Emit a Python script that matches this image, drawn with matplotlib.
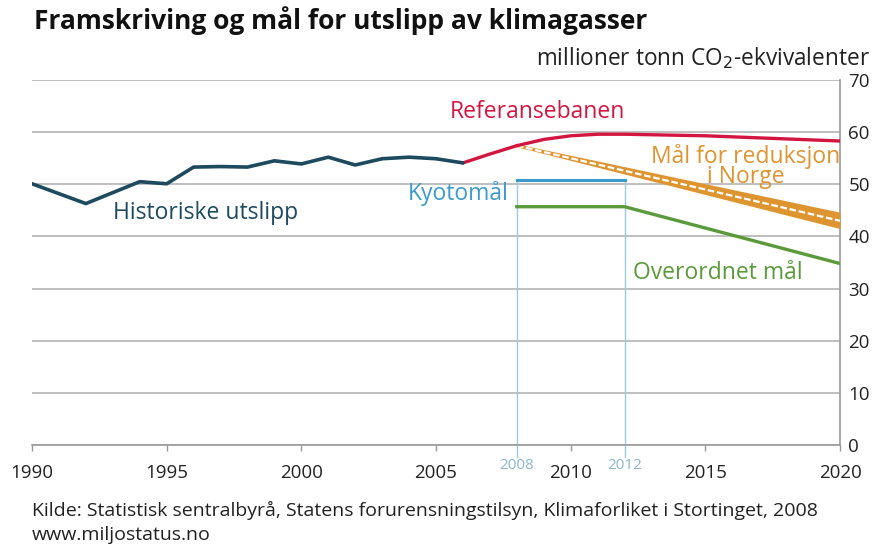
import matplotlib.pyplot as plt
import numpy as np

plt.rcParams['font.family'] = ['Open Sans', 'DejaVu Sans']

# historiske utslipp (millioner tonn CO2-ekv.)
hist_years = [1990, 1991, 1992, 1993, 1994, 1995, 1996, 1997, 1998, 1999,
              2000, 2001, 2002, 2003, 2004, 2005, 2006]
hist_vals = [50.1, 48.2, 46.3, 48.4, 50.5, 50.1, 53.3, 53.4, 53.3, 54.5,
             53.9, 55.2, 53.7, 54.9, 55.2, 54.9, 54.1]

# referansebanen
ref_years = [2006, 2007, 2008, 2009, 2010, 2011, 2012, 2015, 2020]
ref_vals = [54.1, 55.8, 57.4, 58.6, 59.3, 59.6, 59.6, 59.3, 58.3]

# mål for reduksjon i Norge (band)
norge_years = [2008, 2020]
norge_upper = [57.4, 44.3]
norge_lower = [57.4, 41.7]

# Kyotomål
kyoto_years = [2008, 2012]
kyoto_vals = [50.9, 50.9]

# overordnet mål
over_years = [2008, 2012, 2020]
over_vals = [45.7, 45.7, 34.8]

y_ticks = [0, 10, 20, 30, 40, 50, 60, 70]
x_ticks = [1990, 1995, 2000, 2005, 2010, 2015, 2020]

c_hist = '#1d4a5e'
c_ref = '#d2163f'
c_norge = '#de9530'
c_kyoto = '#3b9bcb'
c_kyoto_light = '#9cc8e0'
c_over = '#5b9a3a'
c_grid = '#b4b4b4'

fig = plt.figure(figsize=(8.77, 5.47), dpi=100)
ax = fig.add_axes([32 / 877, 102 / 547, 808 / 877, 365 / 547])

ax.set_xlim(1990, 2020)
ax.set_ylim(0, 70)

for v in y_ticks:
    ax.axhline(v, color=c_grid, lw=1.2, zorder=1)

# Kyoto verticals, extending below axis
for yr in kyoto_years:
    ax.plot([yr, yr], [kyoto_vals[0], -2.3], color=c_kyoto_light, lw=1.0,
            clip_on=False, zorder=2)
    ax.text(yr, -2.4, str(yr), color='#8bb5d0', fontsize=11,
            ha='center', va='top')
ax.plot(kyoto_years, kyoto_vals, color=c_kyoto, lw=2.2, zorder=3)

# Norway band
ax.fill_between(norge_years, norge_lower, norge_upper, color=c_norge,
                lw=0, zorder=3)
ax.plot(norge_years, norge_upper, color=c_norge, lw=2, zorder=3)
ax.plot(norge_years, norge_lower, color=c_norge, lw=2, zorder=3)
mid = [(a + b) / 2 for a, b in zip(norge_upper, norge_lower)]
ax.plot(norge_years, mid, color='white', lw=1.6, ls=(0, (3, 1.2)), zorder=4)

ax.plot(over_years, over_vals, color=c_over, lw=2.4, zorder=3)
ax.plot(ref_years, ref_vals, color=c_ref, lw=2.4, zorder=4,
        solid_capstyle='round', solid_joinstyle='round')
ax.plot(hist_years, hist_vals, color=c_hist, lw=2.6, zorder=5,
        solid_capstyle='round', solid_joinstyle='round')

# labels
lab = 16.5
ax.text(1993.0, 44.5, 'Historiske utslipp', color=c_hist, fontsize=lab, va='center')
ax.text(2005.5, 63.8, 'Referansebanen', color=c_ref, fontsize=lab, va='center')
ax.text(2016.5, 53.4, 'Mål for reduksjon\ni Norge', color=c_norge, fontsize=lab,
        va='center', ha='center', linespacing=0.75)
ax.text(2007.7, 48.2, 'Kyotomål', color=c_kyoto, fontsize=lab, va='center', ha='right')
ax.text(2012.3, 32.9, 'Overordnet mål', color=c_over, fontsize=lab, va='center')

# axes
for s in ['left', 'top']:
    ax.spines[s].set_visible(False)
ax.spines['right'].set_color('#999999')
ax.spines['bottom'].set_color('#999999')
ax.spines['right'].set_linewidth(1.2)
ax.spines['bottom'].set_linewidth(1.2)
ax.yaxis.tick_right()
ax.set_yticks(y_ticks)
ax.set_xticks(x_ticks)
ax.tick_params(axis='y', length=0, pad=6, labelsize=13.5, labelcolor='#222222')
ax.tick_params(axis='x', length=4, width=1, color='#999999', pad=10,
               labelsize=13.5, labelcolor='#222222')

fig.text(34 / 877, 1 - 29 / 547, 'Framskriving og mål for utslipp av klimagasser',
         fontsize=19, fontweight='bold', va='baseline', ha='left', color='#111111')
fig.text(870 / 877, 1 - 58 / 547, 'millioner tonn CO$_2$-ekvivalenter',
         fontsize=16.3, va='center', ha='right', color='#222222')
fig.text(32 / 877, 1 - 510 / 547,
         'Kilde: Statistisk sentralbyrå, Statens forurensningstilsyn, Klimaforliket i Stortinget, 2008',
         fontsize=14, va='center', ha='left', color='#222222')
fig.text(32 / 877, 1 - 535 / 547, 'www.miljostatus.no',
         fontsize=14, va='center', ha='left', color='#222222')

fig.savefig('out.png', dpi=100)
